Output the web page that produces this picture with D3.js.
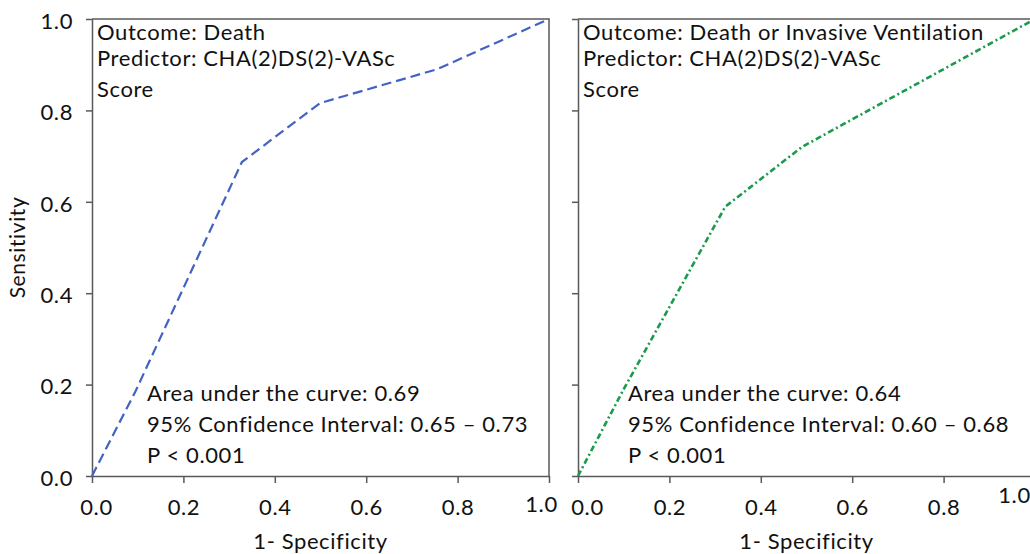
<!DOCTYPE html>
<html>
<head>
<meta charset="utf-8">
<script src="https://cdn.jsdelivr.net/npm/d3@7"></script>
<style>
  body { margin: 0; background: #fff; }
  text { font-family: Lato, "Open Sans", sans-serif; fill: #111; letter-spacing: 0.6px; }
</style>
</head>
<body>
<svg id="canvas"></svg>
<script>
// tick values shared by both panels
const ticks = [0, 0.2, 0.4, 0.6, 0.8, 1.0];

// left panel: death
const deathFpr = [0, 0.095, 0.328, 0.499, 0.755, 1];
const deathTpr = [0, 0.185, 0.687, 0.816, 0.89, 1];
const deathTop = ['Outcome: Death', 'Predictor: CHA(2)DS(2)-VASc', 'Score'];
const deathStats = ['Area under the curve: 0.69', '95% Confidence Interval: 0.65 \u2013 0.73', 'P < 0.001'];

// right panel: death or invasive ventilation
const ventFpr = [0, 0.1, 0.322, 0.49, 1];
const ventTpr = [0, 0.19, 0.589, 0.72, 1];
const ventTop = ['Outcome: Death or Invasive Ventilation', 'Predictor: CHA(2)DS(2)-VASc', 'Score'];
const ventStats = ['Area under the curve: 0.64', '95% Confidence Interval: 0.60 \u2013 0.68', 'P < 0.001'];

const width = 1030;
const height = 554;
const plotTop = 19;
const plotBottom = 476;
const axisColor = '#595959';
const fontSize = 22;

const svg = d3.select('#canvas')
    .attr('width', width)
    .attr('height', height);

const drawPanel = (opts) => {
    const xScale = d3.scaleLinear().domain([0, 1]).range([opts.left, opts.left + 457]);
    const yScale = d3.scaleLinear().domain([0, 1]).range([plotBottom, plotTop]);
    const g = svg.append('g');

    // box (top + right edges)
    g.append('path')
        .attr('d', 'M' + xScale(0) + ',' + yScale(1) + 'H' + xScale(1) + 'V' + yScale(0))
        .attr('fill', 'none')
        .attr('stroke', axisColor)
        .attr('stroke-width', 1.5);

    const xAxis = d3.axisBottom(xScale)
                    .tickValues(ticks)
                    .tickSize(7)
                    .tickSizeOuter(0)
                    .tickFormat(d3.format('.1f'));
    const yAxis = d3.axisLeft(yScale)
                    .tickValues(ticks)
                    .tickSize(6)
                    .tickSizeOuter(0)
                    .tickFormat(opts.yLabels ? d3.format('.1f') : '');

    const gx = g.append('g')
        .attr('transform', 'translate(0,' + plotBottom + ')')
        .call(xAxis);
    const gy = g.append('g')
        .attr('transform', 'translate(' + opts.left + ',0)')
        .call(yAxis);

    [gx, gy].forEach(ax => {
        ax.select('.domain').attr('stroke', axisColor).attr('stroke-width', 1.5);
        ax.selectAll('.tick line').attr('stroke', axisColor).attr('stroke-width', 1.5);
        ax.selectAll('.tick text')
            .attr('font-size', fontSize)
            .attr('font-family', 'Lato, "Open Sans", sans-serif')
            .attr('fill', '#111');
    });
    gx.selectAll('.tick text').attr('y', 23);
    gx.selectAll('.tick text').filter(d => d === 0).attr('dx', opts.firstShift);
    gx.selectAll('.tick text').filter(d => d === 1)
        .attr('dx', opts.lastShift)
        .attr('y', 23 + opts.lastRaise);
    gy.selectAll('.tick text').attr('x', -19).attr('dy', '0.42em');

    // the ROC curve
    const points = opts.fpr.map((f, i) => [f, opts.tpr[i]]);
    const line = d3.line()
        .x(d => xScale(d[0]))
        .y(d => yScale(d[1]));
    g.append('path')
        .datum(points)
        .attr('d', line)
        .attr('fill', 'none')
        .attr('stroke', opts.color)
        .attr('stroke-width', opts.strokeWidth)
        .attr('stroke-dasharray', opts.dash);

    // annotations
    const textX = xScale(0) + 5;
    const topY = [40, 66, 97];
    g.selectAll('text.head')
        .data(opts.head)
        .enter()
        .append('text')
        .attr('class', 'head')
        .attr('x', textX)
        .attr('y', (d, i) => topY[i])
        .attr('font-size', fontSize)
        .text(d => d);

    const statY = [401, 432, 463];
    g.selectAll('text.stat')
        .data(opts.stats)
        .enter()
        .append('text')
        .attr('class', 'stat')
        .attr('x', xScale(0) + opts.statOffset)
        .attr('y', (d, i) => statY[i])
        .attr('font-size', fontSize)
        .text(d => d);

    g.append('text')
        .attr('x', xScale(0.5))
        .attr('y', 549)
        .attr('text-anchor', 'middle')
        .attr('font-size', fontSize)
        .text('1- Specificity');
};

drawPanel({
    left: 92, fpr: deathFpr, tpr: deathTpr, head: deathTop, stats: deathStats,
    color: '#4262c4', strokeWidth: 2.2, dash: '10,5', yLabels: true,
    firstShift: 4, lastShift: -8, lastRaise: -3, statOffset: 55
});
drawPanel({
    left: 578, fpr: ventFpr, tpr: ventTpr, head: ventTop, stats: ventStats,
    color: '#1b9a4c', strokeWidth: 2.6, dash: '6,3,2,3', yLabels: false,
    firstShift: 9, lastShift: -21, lastRaise: -12, statOffset: 50
});

svg.append('text')
    .attr('transform', 'translate(25,' + (plotTop + plotBottom) / 2 + ') rotate(-90)')
    .attr('text-anchor', 'middle')
    .attr('font-size', 21)
    .text('Sensitivity');
</script>
</body>
</html>
